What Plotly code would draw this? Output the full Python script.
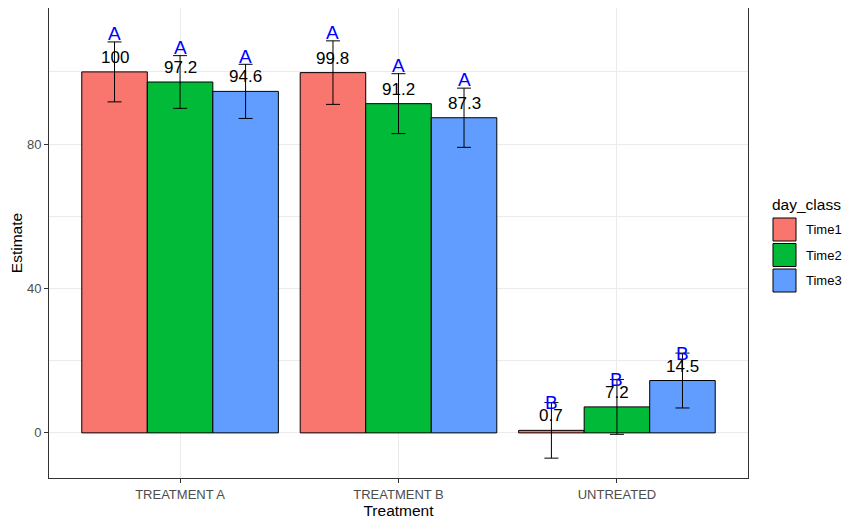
import plotly.graph_objects as go

# ---- data ----
treatments = ["TREATMENT A", "TREATMENT B", "UNTREATED"]
day_classes = ["Time1", "Time2", "Time3"]
estimate_time1 = [100.0, 99.8, 0.7]
estimate_time2 = [97.2, 91.2, 7.2]
estimate_time3 = [94.6, 87.3, 14.5]
error_time1 = [8.3, 8.8, 7.7]
error_time2 = [7.3, 8.3, 7.6]
error_time3 = [7.5, 8.2, 7.6]
letters_time1 = ["A", "A", "B"]
letters_time2 = ["A", "A", "B"]
letters_time3 = ["A", "A", "B"]
y_ticks = [0, 40, 80]

estimates = [estimate_time1, estimate_time2, estimate_time3]
errors = [error_time1, error_time2, error_time3]
letters = [letters_time1, letters_time2, letters_time3]
colors = ["#F8766D", "#00BA38", "#619CFF"]

# page has an 8px body margin; size the figure to compensate
OFF = 8
W, H = 850, 520
L, R, T, B = 41, 110, 0, 50
pw, ph = W - L - R, H - T - B


def pxx(p):  # page pixel -> paper x
    return (p - OFF - L) / pw


def pxy(p):  # page pixel -> paper y
    return (OFF + H - B - p) / ph


FONT = "Liberation Sans, Arial"

fig = go.Figure()
xs = list(range(len(treatments)))
for k, dc in enumerate(day_classes):
    fig.add_trace(go.Bar(
        x=xs, y=estimates[k], name=dc,
        marker=dict(color=colors[k], line=dict(color="black", width=1)),
        error_y=dict(type="data", array=errors[k], color="black", thickness=1, width=7),
        showlegend=False,
    ))

annotations = []
offsets = [-0.3, 0.0, 0.3]
for k in range(3):
    for i in range(3):
        xv = xs[i] + offsets[k]
        est = estimates[k][i]
        up = est + errors[k][i]
        annotations.append(dict(
            x=xv, y=est, xref="x", yref="y", text=f"{est:g}", showarrow=False,
            yanchor="bottom", yshift=3, font=dict(size=17, color="black", family=FONT)))
        lab = letters[k][i]
        nudge = 2.3 if lab == "A" else 0.0
        annotations.append(dict(
            x=xv, y=up + nudge, xref="x", yref="y", text=lab, showarrow=False,
            yanchor="middle", font=dict(size=19, color="#0000FF", family=FONT)))

# manual legend (ggplot-style)
shapes = []
annotations.append(dict(x=pxx(770), y=pxy(204), xref="paper", yref="paper", text="day_class",
                        showarrow=False, xanchor="left", yanchor="middle",
                        font=dict(size=15.5, color="black", family=FONT)))
key_tops = [218, 243.5, 269]
for k, dc in enumerate(day_classes):
    y0, y1 = key_tops[k], key_tops[k] + 23
    shapes.append(dict(type="rect", xref="paper", yref="paper",
                       x0=pxx(773), x1=pxx(796), y0=pxy(y1), y1=pxy(y0),
                       fillcolor=colors[k], line=dict(color="black", width=1)))
    annotations.append(dict(x=pxx(804), y=pxy((y0 + y1) / 2), xref="paper", yref="paper", text=dc,
                            showarrow=False, xanchor="left", yanchor="middle",
                            font=dict(size=13, color="black", family=FONT)))

fig.update_layout(
    width=W, height=H,
    margin=dict(l=L, r=R, t=T, b=B, autoexpand=False),
    paper_bgcolor="white", plot_bgcolor="white",
    barmode="group", bargap=0.1, bargroupgap=0,
    font=dict(family=FONT, color="#4D4D4D"),
    annotations=annotations, shapes=shapes,
    showlegend=False,
)
fig.update_xaxes(
    range=[-0.6, 2.6], tickvals=xs, ticktext=treatments, automargin=False,
    showgrid=True, gridcolor="#EBEBEB", gridwidth=1,
    showline=True, mirror=True, linecolor="#333333", linewidth=1,
    ticks="outside", ticklen=4, tickcolor="#333333", tickfont=dict(size=13, color="#4D4D4D"),
    title=dict(text="Treatment", font=dict(size=15.5, color="black"), standoff=4),
    zeroline=False,
)
fig.update_yaxes(
    range=[-12.5, 117.7], tickvals=y_ticks, automargin=False,
    showgrid=True, gridcolor="#EBEBEB", gridwidth=1,
    minor=dict(dtick=20, tick0=0, showgrid=True, gridcolor="#EBEBEB", gridwidth=0.6),
    showline=True, mirror=True, linecolor="#333333", linewidth=1,
    ticks="outside", ticklen=4, tickcolor="#333333", tickfont=dict(size=13, color="#4D4D4D"),
    title=dict(text="Estimate", font=dict(size=15.5, color="black"), standoff=6),
    zeroline=False,
)

fig.write_html("out.html")
